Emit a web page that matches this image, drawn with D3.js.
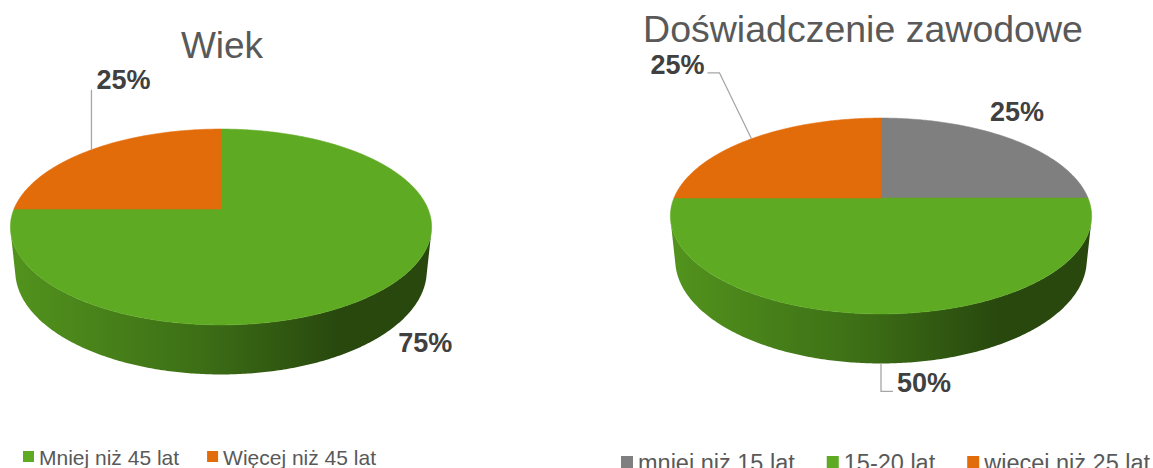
<!DOCTYPE html>
<html>
<head>
<meta charset="utf-8">
<script src="https://cdn.jsdelivr.net/npm/d3@7"></script>
<style>
  body { margin: 0; background: #fff; }
  svg { display: block; font-family: "Liberation Sans", Arial, sans-serif; }
</style>
</head>
<body>
<svg id="chart" width="1153" height="468"></svg>
<script>
// data
var wiekCategories = ["Mniej niż 45 lat", "Więcej niż 45 lat"];
var wiekValues = [75, 25];
var wiekColors = ["#5eaa22", "#e26b0a"];

var stazCategories = ["mniej niż 15 lat", "15-20 lat", "więcej niż 25 lat"];
var stazValues = [25, 50, 25];
var stazColors = ["#7f7f7f", "#5eaa22", "#e26b0a"];

var titles = ["Wiek", "Doświadczenie zawodowe"];

var svg = d3.select("#chart");
var defs = svg.append("defs");

// 3d look: camera tilt, focal length, camera distance, disc thickness
var tilt = 27.2 * Math.PI / 180, focal = 207, dist = 4.84, thick = 0.24;

function projector(cx, cy) {
  return function(a, r, h) {
    var X = r * Math.sin(a), Z = -r * Math.cos(a), Y = h;
    var yc = Y * Math.cos(tilt) - Z * Math.sin(tilt);
    var zc = Z * Math.cos(tilt) + Y * Math.sin(tilt);
    var s = dist / (dist - zc);
    return [cx + focal * X * s, cy - focal * yc * s];
  };
}

// side wall is visible where Z > 1/(dist*cos(tilt))
var zEdge = 1 / (dist * Math.cos(tilt));
var visLo = Math.acos(-zEdge), visHi = 2 * Math.PI - visLo;

function rim(p, a0, a1, h) {
  var n = Math.max(2, Math.ceil(Math.abs(a1 - a0) / 0.01));
  return d3.range(n + 1).map(function(i) { return p(a0 + (a1 - a0) * i / n, 1, h); });
}

var line = d3.line();

function drawPie(opt) {
  var g = svg.append("g");
  var p = projector(opt.cx, opt.cy);
  var total = d3.sum(opt.values);
  var arcs = d3.pie().sort(null).startAngle(0).endAngle(2 * Math.PI)(opt.values);

  // gradients for the side
  opt.colors.forEach(function(c, i) {
    var base = d3.color(c);
    var grad = defs.append("linearGradient")
        .attr("id", opt.id + "-side-" + i)
        .attr("gradientUnits", "userSpaceOnUse")
        .attr("x1", opt.cx - focal * 1.02).attr("x2", opt.cx + focal * 1.02)
        .attr("y1", 0).attr("y2", 0);
    [[0, 0.4], [0.45, 1.2], [0.78, 2.4], [1, 2.4]].forEach(function(s) {
      grad.append("stop").attr("offset", s[0]).attr("stop-color", base.darker(s[1]).formatHex());
    });
  });

  // side walls
  arcs.forEach(function(a, i) {
    var lo = Math.max(a.startAngle, visLo), hi = Math.min(a.endAngle, visHi);
    if (lo >= hi) return;
    var pts = rim(p, lo, hi, 0).concat(rim(p, hi, lo, -thick));
    g.append("path")
        .attr("d", line(pts) + "Z")
        .attr("fill", "url(#" + opt.id + "-side-" + i + ")");
  });

  // top faces
  arcs.forEach(function(a, i) {
    var pts = [p(0, 0, 0)].concat(rim(p, a.startAngle, a.endAngle, 0));
    g.append("path")
        .attr("d", line(pts) + "Z")
        .attr("fill", opt.colors[i])
        .attr("stroke", opt.colors[i])
        .attr("stroke-width", 0.6);
  });

  // data labels
  arcs.forEach(function(a, i) {
    var lb = opt.labels[i];
    var mid = (a.startAngle + a.endAngle) / 2;
    var base = p(mid, 1, lb.at === "bottom" ? -thick : 0);
    if (lb.leader) {
      g.append("path")
          .attr("d", line(lb.leader.map(function(d) { return [base[0] + d[0], base[1] + d[1]]; })))
          .attr("fill", "none")
          .attr("stroke", "#a6a6a6")
          .attr("stroke-width", 1.3);
    }
    g.append("text")
        .attr("x", base[0] + lb.dx)
        .attr("y", base[1] + lb.dy)
        .attr("text-anchor", lb.anchor)
        .attr("dominant-baseline", "central")
        .attr("font-size", 27)
        .attr("font-weight", "bold")
        .attr("fill", "#404040")
        .text(Math.round(a.value / total * 100) + "%");
  });

  // title
  svg.append("text")
      .attr("x", opt.titleX)
      .attr("y", opt.titleY)
      .attr("text-anchor", "middle")
      .attr("font-size", opt.titleSize)
      .attr("fill", "#595959")
      .text(opt.title);

  // legend
  var lg = svg.append("g").attr("transform", "translate(" + opt.legendX + "," + opt.legendY + ")");
  var x = 0;
  opt.categories.forEach(function(name, i) {
    lg.append("rect")
        .attr("x", x).attr("y", -opt.box - 3)
        .attr("width", opt.box).attr("height", opt.box)
        .attr("fill", opt.colors[i]);
    var t = lg.append("text")
        .attr("x", x + opt.box + 5)
        .attr("y", 0)
        .attr("font-size", opt.legendSize)
        .attr("fill", "#595959")
        .text(name);
    x += opt.box + 5 + t.node().getComputedTextLength() + opt.gap;
  });
}

drawPie({
  id: "wiek", title: titles[0], categories: wiekCategories, values: wiekValues, colors: wiekColors,
  cx: 221, cy: 209,
  titleX: 222, titleY: 58, titleSize: 37,
  legendX: 23, legendY: 465, legendSize: 21, box: 11, gap: 28,
  labels: [
    { at: "top", dx: 36, dy: 57, anchor: "middle" },
    { at: "top", dx: 5, dy: -70, anchor: "start", leader: [[0, 0], [0, -60]] }
  ]
});

drawPie({
  id: "staz", title: titles[1], categories: stazCategories, values: stazValues, colors: stazColors,
  cx: 881, cy: 198,
  titleX: 863, titleY: 42, titleSize: 37.5,
  legendX: 621, legendY: 471, legendSize: 23.5, box: 12, gap: 32,
  labels: [
    { at: "top", dx: 6.5, dy: -27, anchor: "middle" },
    { at: "bottom", dx: 16, dy: 20, anchor: "start", leader: [[0, 0], [0, 28], [12, 28]] },
    { at: "top", dx: -47, dy: -74, anchor: "end", leader: [[0, 0], [-32, -66], [-44, -66]] }
  ]
});
</script>
</body>
</html>
